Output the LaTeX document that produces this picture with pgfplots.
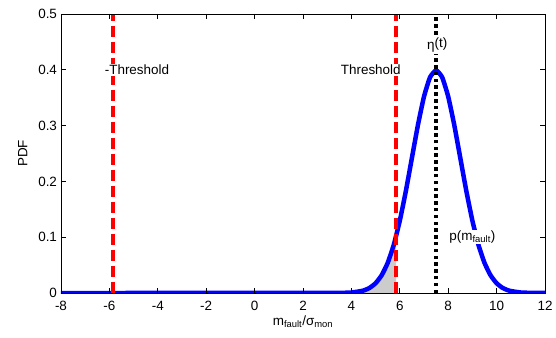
\documentclass[border=0pt]{standalone}
\usepackage{fontspec}
\setmainfont{Liberation Sans}
\usepackage{pgfplots}
\pgfplotsset{compat=1.18}
\newcommand{\lf}{\fontsize{13.5}{15}\selectfont}
\begin{document}
\begin{tikzpicture}
\begin{axis}[
  scale only axis,
  width=484bp, height=279bp,
  xmin=-8, xmax=12, ymin=0, ymax=0.5,
  xtick={-8,-6,...,12},
  ytick={0,0.1,0.2,0.3,0.4,0.5},
  tick align=inside,
  major tick length=5bp,
  tick style={black, line width=0.7pt},
  axis line style={black, line width=0.9pt},
  xticklabel style={/pgf/number format/assume math mode=true, yshift=-4.5bp},
  yticklabel style={/pgf/number format/assume math mode=true, /pgf/number format/fixed, /pgf/number format/precision=1, xshift=-0.5bp},
  ticklabel style={font=\lf},
  label style={font=\lf},
  xlabel={m\textsubscript{fault}/σ\textsubscript{mon}},
  ylabel={PDF},
  ylabel style={yshift=4bp},
  xlabel style={yshift=1.5bp},
  axis on top,
  clip=true,
]
% shaded tail area
\addplot[fill=gray!40, draw=none] coordinates {
 (3,0) (3.5,0.00013) (4,0.00087) (4.5,0.00443) (4.75,0.00909) (5,0.01753)
 (5.25,0.03174) (5.5,0.05399) (5.75,0.08628) (5.85,0.10227) (5.85,0)
} \closedcycle;
% Gaussian pdf
\addplot[blue, line width=4.5bp, smooth, tension=0.3] coordinates {
 (-8,0) (3,0.000016) (3.5,0.00013) (4,0.00087) (4.25,0.00238) (4.5,0.00443) (4.75,0.00909) (5,0.01753)
 (5.25,0.03174) (5.5,0.05399) (5.75,0.08628) (6,0.12952) (6.25,0.18265)
 (6.5,0.24197) (6.75,0.30114) (7,0.35207) (7.25,0.38667) (7.5,0.39894)
 (7.75,0.38667) (8,0.35207) (8.25,0.30114) (8.5,0.24197) (8.75,0.18265)
 (9,0.12952) (9.25,0.08628) (9.5,0.05399) (9.75,0.03174) (10,0.01753)
 (10.25,0.00909) (10.5,0.00443) (10.75,0.00238) (11,0.00087) (11.5,0.00013) (12,0.000016)
};
% thresholds
\addplot[red, line width=4bp, dash pattern=on 11bp off 5bp] coordinates {(-5.85,0) (-5.85,0.5)};
\addplot[red, line width=4bp, dash pattern=on 11bp off 5bp] coordinates {(5.85,0) (5.85,0.5)};
% eta line
\addplot[black, line width=4bp, dash pattern=on 3.5bp off 3.3bp] coordinates {(7.5,0) (7.5,0.5)};
\node[font=\lf, fill=white, inner sep=1pt] at (axis cs:-4.86,0.4) {-Threshold};
\node[font=\lf, fill=white, inner sep=1pt] at (axis cs:4.8,0.4) {Threshold};
\node[font=\lf, fill=white, inner sep=1pt] at (axis cs:7.55,0.444) {η\raisebox{0.35ex}{(t)}};
\node[font=\lf, fill=white, inner sep=1pt] at (axis cs:9.0,0.1) {p(m\textsubscript{fault})};
\end{axis}
\path (current axis.south west) ++(-61bp,-45bp) coordinate (bl);
\path (current axis.north east) ++(11bp,14bp) coordinate (tr);
\path (bl) rectangle (tr);
\end{tikzpicture}
\end{document}
